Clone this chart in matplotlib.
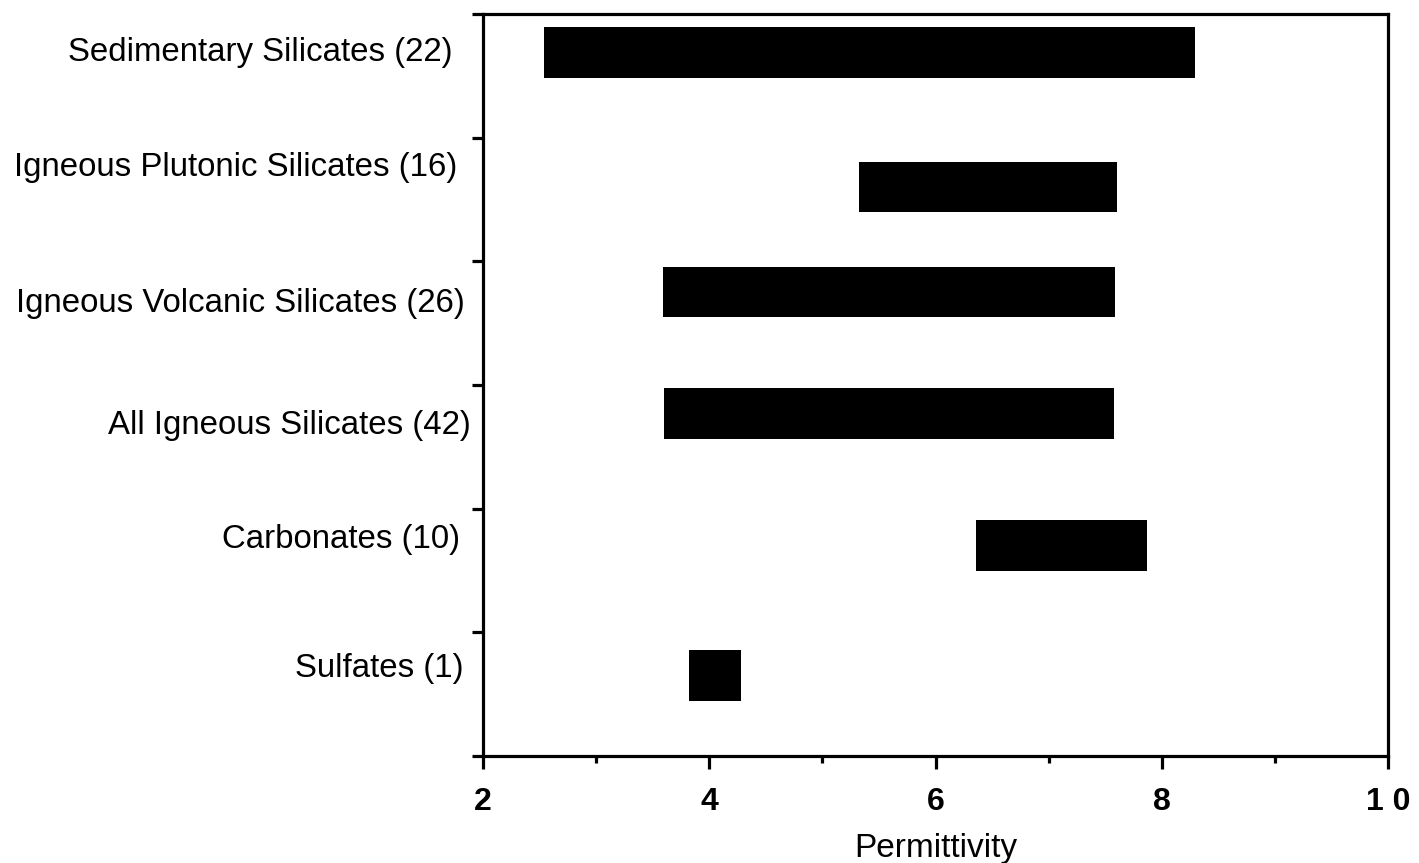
import matplotlib.pyplot as plt
import numpy as np

plt.rcParams['font.family'] = ['Liberation Sans', 'DejaVu Sans']

# rock groups, top to bottom, with sample counts
groups = ["Sedimentary Silicates (22)", "Igneous Plutonic Silicates (16)",
          "Igneous Volcanic Silicates (26)", "All Igneous Silicates (42)",
          "Carbonates (10)", "Sulfates (1)"]
perm_low = [2.54, 5.32, 3.59, 3.60, 6.36, 3.82]
perm_high = [8.29, 7.60, 7.59, 7.58, 7.87, 4.28]

# vertical placement of each row (bars sit a little above the band centre)
bar_y = [5.69, 4.60, 3.75, 2.77, 1.70, 0.65]
label_y = [5.69, 4.76, 3.66, 2.67, 1.75, 0.71]
# right edge of each label, in axes fraction (hand set, slightly ragged)
label_x = [-0.034, -0.029, -0.020, -0.014, -0.025, -0.022]

fig = plt.figure(figsize=(14.19, 8.63), dpi=100)
ax = fig.add_axes([0.3404, 0.124, 0.6378, 0.860])

widths = np.array(perm_high) - np.array(perm_low)
ax.barh(bar_y, widths, left=perm_low, height=0.41, color='black')

for lab, x, y in zip(groups, label_x, label_y):
    ax.text(x, y, lab, transform=ax.get_yaxis_transform(),
            ha='right', va='center', fontsize=23.8)

ax.set_xlim(2, 10)
ax.set_ylim(0, 6)
ax.set_xticks([2, 4, 6, 8, 10])
ax.set_xticklabels(['2', '4', '6', '8', '1 0'], fontsize=23, fontweight='bold')
ax.set_xticks([3, 5, 7, 9], minor=True)
ax.set_yticks(range(7))
ax.set_yticklabels([])

for s in ax.spines.values():
    s.set_linewidth(2.3)
ax.tick_params(axis='x', which='major', direction='out', length=9, width=2.3, pad=13)
ax.tick_params(axis='x', which='minor', direction='out', length=5, width=2.3)
ax.tick_params(axis='y', which='major', direction='out', length=8, width=2.3)

ax.set_xlabel('Permittivity', fontsize=24, labelpad=12)

fig.savefig('out.png', dpi=100)
